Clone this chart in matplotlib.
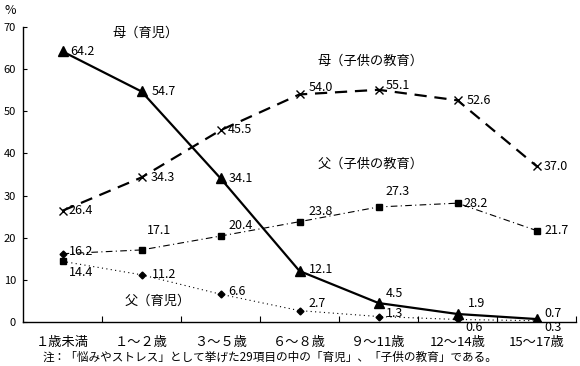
import matplotlib
matplotlib.use('Agg')
import matplotlib.pyplot as plt
from matplotlib.ticker import FixedLocator

plt.rcParams['font.family'] = ['Noto Sans CJK JP', 'DejaVu Sans']

# 年齢区分
ages = ['１歳未満', '１～２歳', '３～５歳', '６～８歳', '９～11歳', '12～14歳', '15～17歳']
# 悩みやストレス（%）
mother_care = [64.2, 54.7, 34.1, 12.1, 4.5, 1.9, 0.7]    # 母（育児）
mother_edu = [26.4, 34.3, 45.5, 54.0, 55.1, 52.6, 37.0]   # 母（子供の教育）
father_edu = [16.2, 17.1, 20.4, 23.8, 27.3, 28.2, 21.7]   # 父（子供の教育）
father_care = [14.4, 11.2, 6.6, 2.7, 1.3, 0.6, 0.3]       # 父（育児）

# ラベルの位置（ピクセルのずれ）
off_mc = [(8, 0), (10, 0), (8, 0), (9, 2), (7, 10), (10, 10), (8, 6)]
off_me = [(6, 0), (9, 0), (7, 1), (9, 7), (7, 4), (9, 0), (7, 0)]
off_fe = [(6, 2), (5, 19), (8, 11), (9, 10), (7, 15), (6, 0), (8, 0)]
off_fc = [(6, -11), (10, 0), (8, 3), (9, 7), (7, 3), (8, -8), (8, -7)]

x = list(range(len(ages)))

fig = plt.figure(figsize=(5.8, 3.66), dpi=100)
ax = fig.add_axes([23 / 580, 44 / 366, 553 / 580, 295 / 366])

ax.plot(x, mother_care, color='black', lw=1.6, marker='^', ms=7, zorder=4)
ax.plot(x, mother_edu, color='black', lw=1.6, ls=(0, (5.5, 3.5)), marker='x', ms=5.5, mew=1.0, zorder=3)
ax.plot(x, father_edu, color='black', lw=0.8, ls=(0, (6, 3, 1, 3)), zorder=3)
ax.plot(x, father_care, color='black', lw=0.8, ls=(0, (1, 3)), zorder=3)

# 最初の点のマーカーは元の図のとおり入れ替え
sq_x = [x[0]] + x[1:]
sq_y = [father_care[0]] + father_edu[1:]
dm_x = [x[0]] + x[1:]
dm_y = [father_edu[0]] + father_care[1:]
ax.plot(sq_x, sq_y, ls='none', marker='s', ms=4.5, color='black', zorder=4)
ax.plot(dm_x, dm_y, ls='none', marker='D', ms=3.5, color='black', zorder=4)

fs = 9
for vals, offs in [(mother_care, off_mc), (mother_edu, off_me),
                   (father_edu, off_fe), (father_care, off_fc)]:
    for i, v in enumerate(vals):
        ax.annotate('%.1f' % v, (x[i], v), xytext=offs[i], textcoords='offset pixels',
                    ha='left', va='center', fontsize=fs)

ax.text(1.05, 68.5, '母（育児）', fontsize=9.5, ha='center', va='center')
ax.text(3.9, 61.8, '母（子供の教育）', fontsize=9.5, ha='center', va='center')
ax.text(3.9, 37.5, '父（子供の教育）', fontsize=9.5, ha='center', va='center')
ax.text(1.2, 5.0, '父（育児）', fontsize=9.5, ha='center', va='center')

ax.set_xlim(-0.5, 6.5)
ax.set_ylim(0, 70)
ax.set_yticks(range(0, 71, 10))
ax.set_xticks(x)
ax.set_xticklabels(ages, fontsize=9.5)
ax.xaxis.set_minor_locator(FixedLocator([i + 0.5 for i in range(7)]))
ax.tick_params(axis='x', which='major', length=0, pad=10)
ax.tick_params(axis='x', which='minor', direction='in', length=4, width=0.8)
ax.tick_params(axis='y', direction='in', length=3, width=0.8, labelsize=8, pad=5)
for s in ['top', 'right']:
    ax.spines[s].set_visible(False)
for s in ['left', 'bottom']:
    ax.spines[s].set_linewidth(1.0)

fig.text(10 / 580, 1 - 10 / 366, '%', fontsize=fs, ha='center', va='center')
fig.text(43 / 580, 1 - 357 / 366,
         '注：「悩みやストレス」として挙げた29項目の中の「育児」、「子供の教育」である。',
         fontsize=8.4, ha='left', va='center')

fig.savefig('out.png', dpi=100)
